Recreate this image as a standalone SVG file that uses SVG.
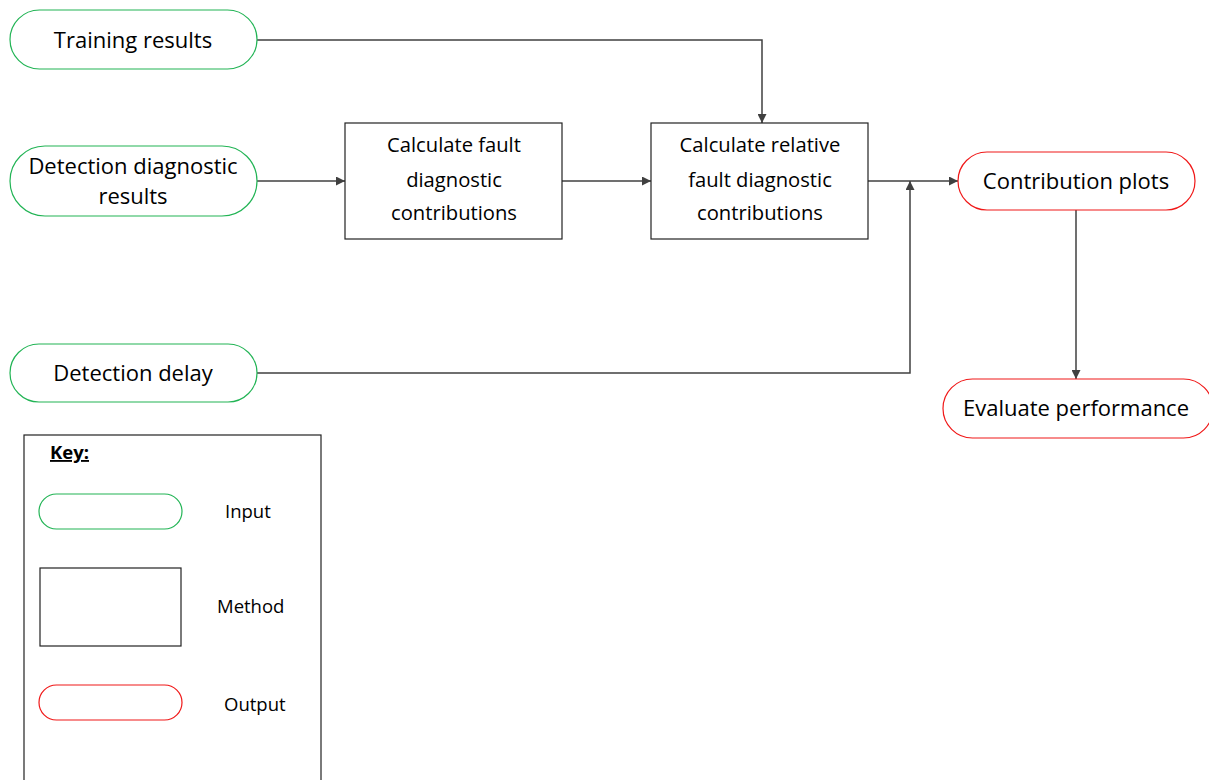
<svg xmlns="http://www.w3.org/2000/svg" width="1209" height="780" viewBox="0 0 1209 780">
  <style>
    text { font-family: "Open Sans", "Liberation Sans", sans-serif; fill: #000; }
    .lbl { font-size: 22px; text-anchor: middle; }
    .box { font-size: 20.2px; text-anchor: middle; }
    .key { font-size: 18.5px; }
    .input { fill: #fff; stroke: #22b455; stroke-width: 1.2; }
    .output { fill: #fff; stroke: #f01818; stroke-width: 1.2; }
    .method { fill: #fff; stroke: #222; stroke-width: 1.2; }
    .wire { fill: none; stroke: #404040; stroke-width: 1.5; }
  </style>
  <defs>
    <marker id="arr" viewBox="0 0 10 10" refX="10" refY="5" markerWidth="9" markerHeight="9" markerUnits="userSpaceOnUse" orient="auto">
      <path d="M0,0 L10,5 L0,10 Z" fill="#404040"/>
    </marker>
  </defs>
  <rect width="1209" height="780" fill="#fff"/>

  <!-- connectors -->
  <g id="connectors">
    <polyline class="wire" points="257,40 762,40 762,123" marker-end="url(#arr)"/>
    <line class="wire" x1="257" y1="181" x2="345" y2="181" marker-end="url(#arr)"/>
    <line class="wire" x1="562" y1="181" x2="651" y2="181" marker-end="url(#arr)"/>
    <line class="wire" x1="868" y1="181" x2="958" y2="181" marker-end="url(#arr)"/>
    <polyline class="wire" points="257,373 910,373 910,181" marker-end="url(#arr)"/>
    <line class="wire" x1="1076" y1="210" x2="1076" y2="379" marker-end="url(#arr)"/>
  </g>

  <!-- inputs -->
  <g id="training-results">
    <rect class="input" x="10" y="10" width="247" height="59" rx="29.5"/>
    <text class="lbl" x="133" y="48">Training results</text>
  </g>
  <g id="detection-diagnostic-results">
    <rect class="input" x="10" y="146" width="247" height="70" rx="35"/>
    <text class="lbl" x="133" y="174">Detection diagnostic</text>
    <text class="lbl" x="133" y="204">results</text>
  </g>
  <g id="detection-delay">
    <rect class="input" x="10" y="344" width="247" height="58" rx="29"/>
    <text class="lbl" x="133" y="381">Detection delay</text>
  </g>

  <!-- methods -->
  <g id="calc-fault-contributions">
    <rect class="method" x="345" y="123" width="217" height="116"/>
    <text class="box" x="454" y="152">Calculate fault</text>
    <text class="box" x="454" y="187">diagnostic</text>
    <text class="box" x="454" y="220">contributions</text>
  </g>
  <g id="calc-relative-contributions">
    <rect class="method" x="651" y="123" width="217" height="116"/>
    <text class="box" x="760" y="152">Calculate relative</text>
    <text class="box" x="760" y="187">fault diagnostic</text>
    <text class="box" x="760" y="220">contributions</text>
  </g>

  <!-- outputs -->
  <g id="contribution-plots">
    <rect class="output" x="958" y="152" width="237" height="58" rx="29"/>
    <text class="lbl" x="1076" y="189">Contribution plots</text>
  </g>
  <g id="evaluate-performance">
    <rect class="output" x="943" y="379" width="270" height="59" rx="29.5"/>
    <text class="lbl" x="1076" y="416">Evaluate performance</text>
  </g>

  <!-- legend -->
  <g id="key">
    <rect x="24" y="435" width="297" height="360" fill="#fff" stroke="#222" stroke-width="1.2"/>
    <text class="key" x="50" y="459" font-weight="bold" text-decoration="underline">Key:</text>
    <rect class="input" x="39" y="494" width="143" height="35" rx="17.5"/>
    <text class="key" x="225" y="518">Input</text>
    <rect class="method" x="40" y="568" width="141" height="78"/>
    <text class="key" x="217" y="613">Method</text>
    <rect class="output" x="39" y="685" width="143" height="35" rx="17.5"/>
    <text class="key" x="224" y="711">Output</text>
  </g>
</svg>
